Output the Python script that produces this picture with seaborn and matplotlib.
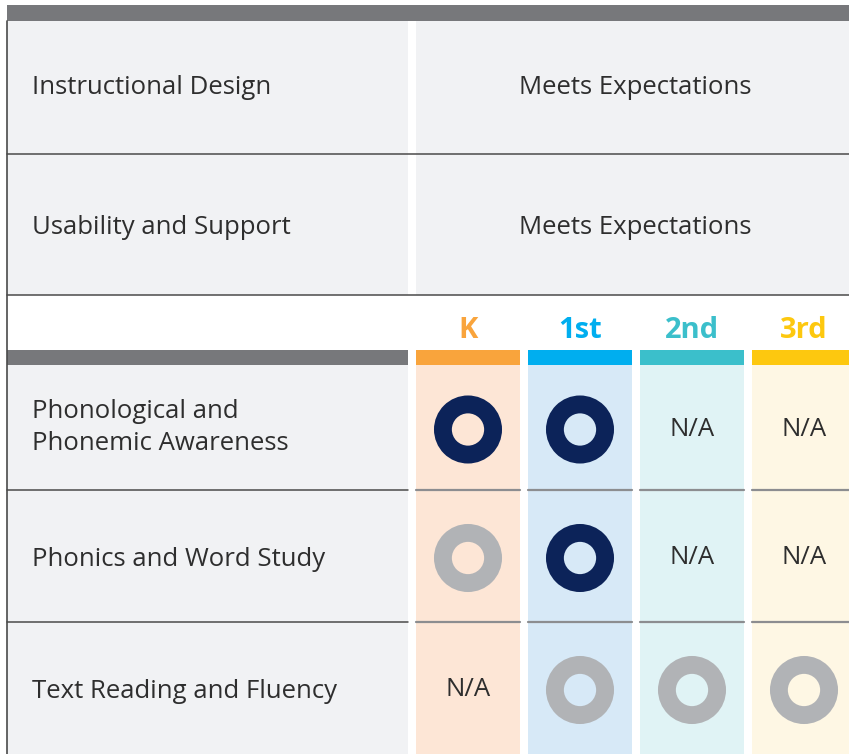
import matplotlib.pyplot as plt
import pandas as pd
import seaborn as sns

# summary rows at the top
summary_criteria = ["Instructional Design", "Usability and Support"]
summary_ratings = ["Meets Expectations", "Meets Expectations"]

# grade columns
grades = ["K", "1st", "2nd", "3rd"]
grade_colors = ["#f9a43c", "#00aeef", "#3bbfcb", "#fdc80f"]
grade_bg = ["#fde6d6", "#d7e9f7", "#e0f3f5", "#fef7e4"]

# standards rows and their ratings per grade (None = N/A)
standards = [
    "Phonological and\nPhonemic Awareness",
    "Phonics and Word Study",
    "Text Reading and Fluency",
]
ratings = [
    ["meets", "meets", None, None],
    ["partial", "meets", None, None],
    [None, "partial", "partial", "partial"],
]
rating_colors = {"meets": "#0c2359", "partial": "#b1b3b6"}

# layout (pixels)
W, H = 849, 754
left_x0, left_x1 = 7, 408
right_x0 = 416
col_w, col_gap = 104, 8
top_rows = [21, 154, 295]
header_bar = (350, 365)
std_rows = [365, 490, 622, 754]
txt = "#2e2e2e"
cell_bg = "#f1f2f4"
bar_gray = "#77787b"
fs = 18.5

sns.set_theme(style="white")
plt.rcParams["font.family"] = ["Open Sans", "DejaVu Sans"]

fig = plt.figure(figsize=(W / 100, H / 100), dpi=100)
ax = fig.add_axes([0, 0, 1, 1])

def rect(x0, y0, x1, y1, color):
    ax.add_patch(plt.Rectangle((x0, y0), x1 - x0, y1 - y0, color=color, lw=0))

# top gray bar
rect(left_x0, 5, W, 21, bar_gray)

# summary section
for i, (crit, rating) in enumerate(zip(summary_criteria, summary_ratings)):
    y0, y1 = top_rows[i], top_rows[i + 1]
    rect(left_x0, y0, left_x1, y1, cell_bg)
    rect(right_x0, y0, W, y1, cell_bg)
    yc = (y0 + y1) / 2 + i * 3
    ax.text(32, yc, crit, fontsize=fs, color=txt, va="center", ha="left")
    ax.text((right_x0 + W) / 2 + 3, yc, rating, fontsize=fs, color=txt,
            va="center", ha="center")
    ax.plot([left_x0, W], [y1, y1], color="#4a4a4a", lw=1.1)

# grade columns
col_x0 = [right_x0 + k * (col_w + col_gap) for k in range(len(grades))]
col_cx = [x + col_w / 2 for x in col_x0]
rect(left_x0, header_bar[0], left_x1, header_bar[1], bar_gray)
for k, g in enumerate(grades):
    x0 = col_x0[k]
    x1 = min(x0 + col_w, W)
    rect(x0, header_bar[0], x1, header_bar[1], grade_colors[k])
    rect(x0, header_bar[1], x1, H, grade_bg[k])
    ax.text(col_cx[k], 330, g, fontsize=21, fontweight="bold",
            color=grade_colors[k], ha="center", va="center")

# standards rows
rows = []
for i, name in enumerate(standards):
    y0, y1 = std_rows[i], std_rows[i + 1]
    yc = (y0 + y1) / 2
    rect(left_x0, y0, left_x1, y1, cell_bg)
    two_line = "\n" in name
    ax.text(32, yc if two_line else yc + 4, name, fontsize=fs, color=txt,
            va="center", ha="left", linespacing=1.4)
    if i > 0:
        ax.plot([left_x0, left_x1], [y0, y0], color="#4a4a4a", lw=1.1)
        for k in range(len(grades)):
            ax.plot([col_x0[k], min(col_x0[k] + col_w, W)], [y0, y0],
                    color="#8c8d90", lw=1.6)
    for k, r in enumerate(ratings[i]):
        if r is None:
            ax.text(col_cx[k], yc + 2, "N/A", fontsize=fs, color=txt,
                    ha="center", va="center")
        else:
            rows.append({"x": col_cx[k], "y": yc + 2, "rating": r, "grade": grades[k]})

df = pd.DataFrame(rows)
# outer disk then inner hole in the column colour
sns.scatterplot(data=df, x="x", y="y", hue="rating", palette=rating_colors,
                s=2400, linewidth=0, legend=False, ax=ax, zorder=3)
sns.scatterplot(data=df, x="x", y="y", hue="grade",
                palette=dict(zip(grades, grade_bg)),
                s=540, linewidth=0, legend=False, ax=ax, zorder=4)

# left border line
ax.plot([left_x0, left_x0], [21, H], color="#4a4a4a", lw=1.2)

ax.set_xlim(0, W)
ax.set_ylim(H, 0)
ax.axis("off")

fig.savefig("out.png", dpi=100)
